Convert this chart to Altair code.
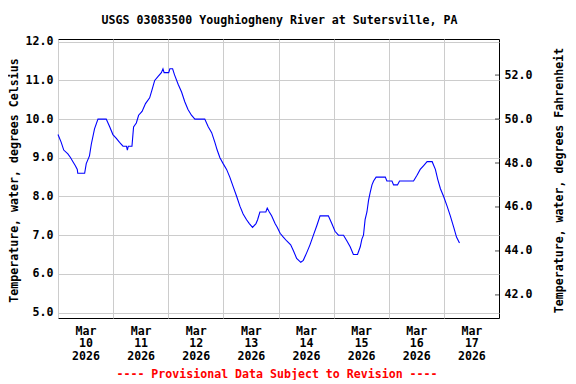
import altair as alt
import pandas as pd

title_text = "USGS 03083500 Youghiogheny River at Sutersville, PA"
footer_text = "---- Provisional Data Subject to Revision ----"
y_title_c = "Temperature, water, degrees Celsius"
y_title_f = "Temperature, water, degrees Fahrenheit"

start = "2026-03-10T00:00:00"
hours = [0, 1.4, 2.5, 4.3, 5.5, 6.5, 7.5, 8.4, 8.6, 11.6, 12.3, 13.7, 14.5, 15.9, 17.4,
         21.0, 22.5, 23.9, 25.4, 26.8, 28.3, 29.8, 30.2, 30.6, 32.2, 32.9, 34.1, 35.1,
         36.6, 38.1, 39.9, 40.9, 42.1, 43.5, 45.0, 45.7, 46.2, 48.2, 48.7, 49.9, 50.7,
         52.3, 53.8, 55.2, 56.6, 58.1, 59.6, 63.9, 65.4, 66.9, 68.3, 69.3, 70.5, 71.9,
         73.4, 74.8, 76.3, 77.8, 79.2, 80.6, 82.1, 83.3, 84.7, 86.2, 86.9, 87.9, 90.5,
         91.1, 92.0, 93.0, 94.5, 95.5, 96.7, 98.1, 99.6, 101.3, 102.5, 103.9, 105.7,
         106.8, 108.3, 109.7, 111.2, 112.7, 114.1, 117.7, 119.2, 120.6, 122.1, 124.3,
         125.8, 127.2, 128.6, 130.4, 131.6, 132.3, 133.0, 133.7, 134.5, 135.2, 135.9,
         136.7, 137.4, 138.5, 142.5, 143.2, 145.4, 146.1, 147.8, 148.7, 154.8, 156.3,
         157.7, 159.2, 160.7, 162.9, 164.3, 165.3, 166.5, 167.9, 169.4, 170.8, 172.3,
         173.5, 174.8]
temps = [9.6, 9.4, 9.2, 9.1, 9.0, 8.9, 8.8, 8.7, 8.6, 8.6, 8.85, 9.05, 9.35, 9.75, 10.0,
         10.0, 9.8, 9.6, 9.5, 9.4, 9.3, 9.3, 9.2, 9.3, 9.3, 9.8, 9.9, 10.1,
         10.2, 10.4, 10.55, 10.75, 11.0, 11.1, 11.2, 11.3, 11.2, 11.2, 11.3, 11.3, 11.15,
         10.9, 10.7, 10.45, 10.25, 10.1, 10.0, 10.0, 9.8, 9.65, 9.4, 9.2, 9.0, 8.85,
         8.7, 8.5, 8.25, 8.0, 7.75, 7.55, 7.4, 7.3, 7.2, 7.3, 7.4, 7.6, 7.6,
         7.7, 7.6, 7.5, 7.3, 7.2, 7.05, 6.95, 6.85, 6.75, 6.6, 6.4, 6.3,
         6.35, 6.55, 6.75, 7.0, 7.25, 7.5, 7.5, 7.3, 7.1, 7.0, 7.0,
         6.85, 6.7, 6.5, 6.5, 6.7, 6.9, 7.0, 7.4, 7.6, 7.9, 8.1,
         8.3, 8.4, 8.5, 8.5, 8.4, 8.4, 8.3, 8.3, 8.4, 8.4, 8.55,
         8.7, 8.8, 8.9, 8.9, 8.7, 8.45, 8.2, 8.0, 7.75, 7.5, 7.2,
         6.95, 6.8]
label_days = [10, 11, 12, 13, 14, 15, 16, 17]
c_ticks = [5, 6, 7, 8, 9, 10, 11, 12]
f_ticks = [42, 44, 46, 48, 50, 52]
c_domain = [4.86, 12.07]
f_domain = [40.95, 53.64]

assert len(hours) == len(temps)

times = (pd.Timestamp(start) + pd.to_timedelta(hours, unit="h")).strftime("%Y-%m-%dT%H:%M:%S")
df = pd.DataFrame({"time": list(times), "temp": temps})
fdf = pd.DataFrame({"f": f_ticks})

FONT = "DejaVu Sans Mono"
FS = 11.6

x_values = [alt.DateTime(year=2026, month=3, date=d, hours=0) for d in label_days]

line = alt.Chart(df).mark_line(color="#0000ff", strokeWidth=1.1).encode(
    x=alt.X("time:T",
            scale=alt.Scale(domain=[alt.DateTime(year=2026, month=3, date=10, hours=0),
                                    alt.DateTime(year=2026, month=3, date=18, hours=0)]),
            axis=alt.Axis(values=x_values, grid=True, gridColor="#cccccc", ticks=False,
                          tickSize=0, domain=False, labelOffset=27.5, labelPadding=7,
                          labelBaseline="top", labelLineHeight=12.6, labelAlign="center",
                          labelFont=FONT, labelFontSize=FS, labelFontWeight="bold",
                          labelColor="black",
                          labelExpr="[timeFormat(datum.value, '%b'), timeFormat(datum.value, '%d'), timeFormat(datum.value, '%Y')]",
                          title=None)),
    y=alt.Y("temp:Q",
            scale=alt.Scale(domain=c_domain, nice=False, zero=False),
            axis=alt.Axis(values=c_ticks, format=".1f", grid=True, gridColor="#cccccc",
                          ticks=False, tickSize=0, domain=False, labelPadding=5,
                          labelFont=FONT, labelFontSize=FS, labelFontWeight="bold",
                          labelColor="black",
                          title=y_title_c, titleAngle=270, titleX=-41, titleY=141,
                          titleAlign="center", titleBaseline="alphabetic",
                          titleFont=FONT, titleFontSize=FS, titleFontWeight="bold",
                          titleColor="black")),
)

fticks = alt.Chart(fdf).mark_tick(color="black", thickness=1, size=4).encode(
    x=alt.value(439),
    y=alt.Y("f:Q",
            scale=alt.Scale(domain=f_domain, nice=False, zero=False),
            axis=alt.Axis(orient="right", values=f_ticks, format=".1f", grid=False,
                          ticks=False, tickSize=0, domain=False, labelPadding=5,
                          labelFont=FONT, labelFontSize=FS, labelFontWeight="bold",
                          labelColor="black",
                          title=y_title_f, titleAngle=270, titleX=63, titleY=141,
                          titleAlign="center", titleBaseline="alphabetic",
                          titleFont=FONT, titleFontSize=FS, titleFontWeight="bold",
                          titleColor="black")),
)

title = alt.Chart(pd.DataFrame({"t": [title_text]})).mark_text(
    font=FONT, fontSize=FS, fontWeight="bold", color="black", align="center",
    baseline="alphabetic").encode(text="t:N", x=alt.value(221.5), y=alt.value(-15))

footer = alt.Chart(pd.DataFrame({"t": [footer_text]})).mark_text(
    font=FONT, fontSize=FS, fontWeight="bold", color="#ff0000", align="center",
    baseline="alphabetic").encode(text="t:N", x=alt.value(219), y=alt.value(338.5))

chart = alt.layer(line, fticks, title, footer).resolve_scale(y="independent").properties(
    width=441, height=279,
    padding={"left": 50, "top": 31, "right": 69, "bottom": 62},
    autosize=alt.AutoSizeParams(type="none"),
    background="white",
).configure_view(stroke="black", strokeWidth=1)

chart.save("out.html", embed_options={"renderer": "svg", "actions": False})
